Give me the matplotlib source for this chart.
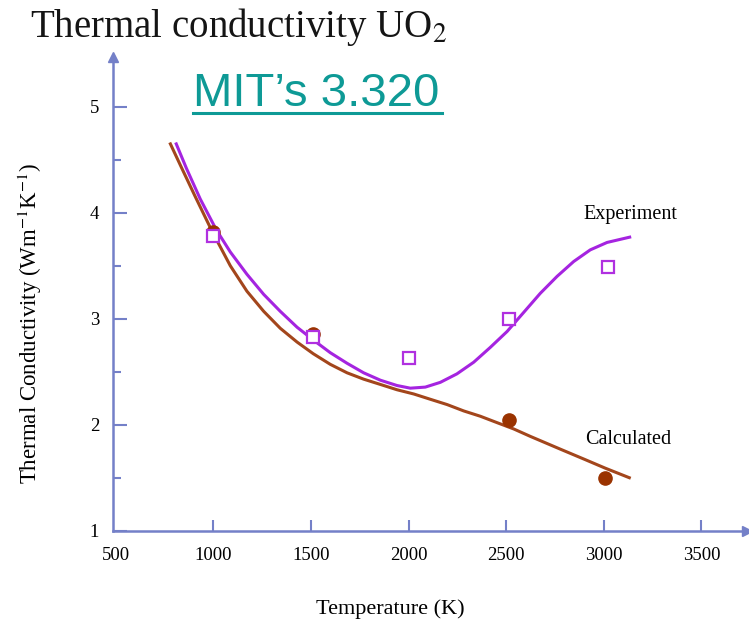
import matplotlib
matplotlib.use("Agg")
from matplotlib import pyplot as plt
from matplotlib.ticker import MultipleLocator

plt.rcParams["mathtext.fontset"] = "stix"

# curves
calc_curve_x = [780, 836, 908, 995, 1087, 1172, 1258, 1343, 1429, 1512, 1599, 1685, 1770, 1856, 1941,
                2027, 2112, 2198, 2283, 2368, 2453, 2539, 2624, 2777, 2906, 3008, 3131]
calc_curve_y = [4.65, 4.43, 4.15, 3.82, 3.50, 3.26, 3.07, 2.91, 2.78, 2.67, 2.57, 2.49, 2.43, 2.38, 2.33,
                2.29, 2.24, 2.19, 2.13, 2.08, 2.02, 1.96, 1.89, 1.77, 1.67, 1.59, 1.50]
exp_curve_x = [810, 862, 933, 1015, 1087, 1172, 1258, 1343, 1429, 1512, 1599, 1685, 1770, 1856, 1941,
               2009, 2086, 2163, 2248, 2334, 2419, 2505, 2590, 2675, 2761, 2846, 2931, 3017, 3133]
exp_curve_y = [4.65, 4.42, 4.13, 3.84, 3.63, 3.42, 3.23, 3.07, 2.92, 2.80, 2.68, 2.58, 2.49, 2.42, 2.37,
               2.345, 2.355, 2.40, 2.48, 2.59, 2.73, 2.88, 3.06, 3.24, 3.40, 3.54, 3.65, 3.72, 3.77]

# measured points
exp_x = [1000, 1510, 2000, 2515, 3020]
exp_y = [3.78, 2.83, 2.63, 3.00, 3.49]
calc_x = [1000, 1510, 2515, 3008]
calc_y = [3.82, 2.86, 2.04, 1.50]

x_ticks = [500, 1000, 1500, 2000, 2500, 3000, 3500]
y_ticks = [1, 2, 3, 4, 5]

axis_col = "#7480C8"
purple = "#A524E0"
brown = "#A3461C"
serif = ["Liberation Serif", "DejaVu Serif"]

fig = plt.figure(figsize=(7.49, 6.23), dpi=100)
ax = fig.add_axes([113 / 749, 1 - 530.7 / 623, 634 / 749, 473.7 / 623])

ax.plot(calc_curve_x, calc_curve_y, color=brown, lw=2.2, zorder=2)
ax.plot(exp_curve_x, exp_curve_y, color=purple, lw=2.2, zorder=3)
ax.plot(calc_x, calc_y, "o", color="#9A3300", ms=9.5, zorder=4)
ax.plot(exp_x, exp_y, "s", mfc="white", mec="#B030E0", mew=1.6, ms=8, zorder=5)

ax.set_xlim(486, 3734)
ax.set_ylim(1.0, 5.47)
ax.set_xticks(x_ticks)
ax.set_yticks(y_ticks)
ax.yaxis.set_minor_locator(MultipleLocator(0.5))
ax.set_xticklabels([str(t) for t in x_ticks], family=serif, fontsize=13.5)
ax.set_yticklabels([str(t) for t in y_ticks], family=serif, fontsize=13.5)
ax.tick_params(axis="x", direction="in", length=8, width=1.5, color=axis_col, pad=12)
ax.tick_params(axis="y", which="major", direction="in", length=10, width=1.5, color=axis_col, pad=10)
ax.tick_params(axis="y", which="minor", direction="in", length=6, width=1.5, color=axis_col)
ax.xaxis.get_major_ticks()[0].tick1line.set_visible(False)

for s in ["top", "right"]:
    ax.spines[s].set_visible(False)
for s in ["left", "bottom"]:
    ax.spines[s].set_color(axis_col)
    ax.spines[s].set_linewidth(1.8)
ax.plot(1, 0, ">", color=axis_col, ms=7, transform=ax.transAxes, clip_on=False)
ax.plot(0, 1, "^", color=axis_col, ms=7, transform=ax.transAxes, clip_on=False)

ax.text(2895, 3.98, "Experiment", family=serif, fontsize=14.5, ha="left", va="center")
ax.text(2905, 1.86, "Calculated", family=serif, fontsize=14.5, ha="left", va="center")

fig.text(30 / 749, 1 - 323 / 623, "Thermal Conductivity (Wm$^{-1}$K$^{-1}$)", family=serif,
         fontsize=16.5, rotation=90, ha="center", va="center")
fig.text(390 / 749, 1 - 609 / 623, "Temperature (K)", family=serif, fontsize=16,
         ha="center", va="center")
fig.text(30 / 749, 1 - 37 / 623, "Thermal conductivity UO$_2$", family=serif,
         fontsize=28, ha="left", va="baseline", color="#151515")
fig.text(193 / 749, 1 - 106 / 623, "MIT’s 3.320", family="Liberation Sans", fontsize=34,
         ha="left", va="baseline", color="#0E9A96")
fig.add_artist(plt.Line2D([193 / 749, 442 / 749], [1 - 113 / 623, 1 - 113 / 623],
                          color="#0E9A96", lw=2.2))

fig.savefig("out.png", dpi=100)
